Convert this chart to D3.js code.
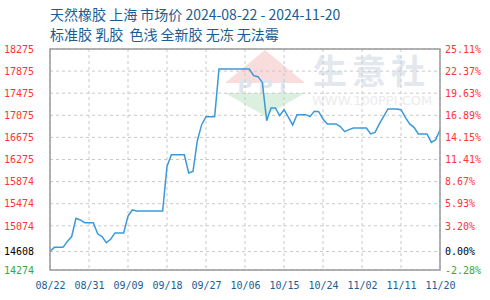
<!DOCTYPE html>
<html>
<head>
<meta charset="utf-8">
<script src="https://cdn.jsdelivr.net/npm/d3@7"></script>
<style>
body { margin: 0; background: #fff; }
</style>
</head>
<body>
<script>
// data (daily prices, yuan/ton)
var titleLines = ["天然橡胶 上海 市场价 2024-08-22 - 2024-11-20", "标准胶 乳胶  色浅 全新胶 无冻 无法霉"]
var startDate = "2024-08-22"
var prices = [
  14608, 14684, 14684, 14684, 14790, 14880, 15210, 15180, 15130, 15130,
  15130, 14930, 14880, 14770, 14830, 14945, 14945, 14945, 15250, 15361,
  15343, 15343, 15343, 15343, 15343, 15343, 15343, 16150, 16360, 16360,
  16360, 16360, 16030, 16060, 16615, 16905, 17050, 17050, 17050, 17913,
  17913, 17913, 17913, 17913, 17913, 17913, 17913, 17792, 17774, 17670,
  16977, 17207, 17207, 17068, 17176, 17040, 16900, 17086, 17086, 17086,
  17050, 17146, 17140, 17008, 16918, 16918, 16918, 16870, 16778, 16815,
  16845, 16845, 16845, 16845, 16737, 16766, 16918, 17055, 17189, 17189,
  17189, 17176, 17037, 16918, 16856, 16737, 16737, 16737, 16585, 16634,
  16809
]
var xTickLabels = ["08/22", "08/31", "09/09", "09/18", "09/27", "10/06", "10/15", "10/24", "11/02", "11/11", "11/20"]
var yTicks = [18275, 17875, 17475, 17075, 16675, 16275, 15874, 15474, 15074, 14608, 14274]
var pctLabels = ["25.11%", "22.37%", "19.63%", "16.89%", "14.15%", "11.41%", "8.67%", "5.93%", "3.20%", "0.00%", "-2.28%"]
var basePrice = 14608

var W = 490, H = 300
// plot box (don't use "top" as a global name, it clashes with window.top)
var pL = 50, pR = 440, pT = 49, pB = 270

var svg = d3.select("body").append("svg")
    .attr("width", W)
    .attr("height", H)

var parse = d3.timeParse("%Y-%m-%d")
var t0 = parse(startDate)
var data = prices.map((v, i) => ({ date: d3.timeDay.offset(t0, i), value: v }))
var xTicks = xTickLabels.map(s => parse("2024-" + s.replace("/", "-")))

var x = d3.scaleTime()
    .domain([t0, data[data.length - 1].date])
    .range([pL, pR])
var y = d3.scaleLinear()
    .domain([14274, 18275])
    .range([pB, pT])

var blue = "#1a5c93"
var mono = "'DejaVu Sans Mono', monospace"

// title
svg.selectAll(".title")
  .data(titleLines)
  .enter()
  .append("text")
  .attr("class", "title")
  .attr("x", pL)
  .attr("y", (d, i) => 20 + i * 19.5)
  .style("white-space", "pre")
  .text(d => d)
  .attr("font-family", "'Noto Sans CJK SC', sans-serif")
  .attr("font-size", "14px")
  .attr("fill", blue)

// watermark (behind grid)
var wm = svg.append("g").attr("class", "watermark")
wm.append("path")
  .attr("d", "M265,50 L305,83 L225,83 Z")
  .style("fill", "#f9dcdc")
wm.append("path")
  .attr("d", "M225,93 L305,93 L265,116 Z")
  .style("fill", "#dcf0df")
wm.append("text")
  .attr("x", 265).attr("y", 93)
  .attr("text-anchor", "middle")
  .text("PPI")
  .attr("font-family", "'DejaVu Sans', sans-serif")
  .attr("font-weight", "bold")
  .attr("font-size", "20px")
  .attr("letter-spacing", "6px")
  .attr("fill", "#dfe5ef")
wm.append("text")
  .attr("x", 313).attr("y", 84)
  .text("生意社")
  .attr("font-family", "'Noto Sans CJK SC', sans-serif")
  .attr("font-weight", "bold")
  .attr("font-size", "34px")
  .attr("letter-spacing", "5px")
  .attr("fill", "#e3e7ee")
wm.append("text")
  .attr("x", 312).attr("y", 105)
  .text("WWW.100PPI.COM")
  .attr("font-family", "'DejaVu Sans', sans-serif")
  .attr("font-size", "13px")
  .attr("fill", "#ebebeb")

// grid
var grid = svg.append("g").attr("class", "grid")
grid.selectAll(".hgrid")
  .data(yTicks)
  .enter()
  .append("line")
  .attr("x1", pL).attr("x2", pR)
  .attr("y1", d => y(d)).attr("y2", d => y(d))
  .style("stroke", "#c8c8c8")
  .style("stroke-dasharray", "3,3")
grid.selectAll(".vgrid")
  .data(xTicks)
  .enter()
  .append("line")
  .attr("x1", d => x(d)).attr("x2", d => x(d))
  .attr("y1", pT).attr("y2", pB)
  .style("stroke", "#c8c8c8")
  .style("stroke-dasharray", "3,3")

// line
var line = d3.line()
    .x(d => x(d.date))
    .y(d => y(d.value))
svg.append("path")
  .datum(data)
  .attr("d", line)
  .style("fill", "none")
  .style("stroke", "#3a9ad9")
  .style("stroke-width", 1.5)

// frame
svg.append("rect")
  .attr("x", pL).attr("y", pT)
  .attr("width", pR - pL).attr("height", pB - pT)
  .style("fill", "none")
  .style("stroke", "#9a9a9a")
  .style("stroke-width", 1.5)

function tickColor(v) {
  if (v > basePrice) return "#ff3333"
  if (v < basePrice) return "#33aa33"
  return "#000"
}

// left axis
var yAxisL = svg.append("g")
  .attr("transform", `translate(${pL},0)`)
  .call(d3.axisLeft(y).tickValues(yTicks).tickSize(0).tickPadding(16).tickFormat(d3.format("d")))
yAxisL.select(".domain").remove()
yAxisL.selectAll("text")
  .attr("font-family", mono)
  .attr("font-size", "10px")
  .attr("fill", d => tickColor(d))

// right axis
var yAxisR = svg.append("g")
  .attr("transform", `translate(${pR},0)`)
  .call(d3.axisRight(y).tickValues(yTicks).tickSize(0).tickPadding(5).tickFormat((d, i) => pctLabels[i]))
yAxisR.select(".domain").remove()
yAxisR.selectAll("text")
  .attr("font-family", mono)
  .attr("font-size", "10px")
  .attr("fill", d => tickColor(d))

// bottom axis
var xAxis = svg.append("g")
  .attr("transform", `translate(0,${pB})`)
  .call(d3.axisBottom(x).tickValues(xTicks).tickSize(0).tickPadding(12).tickFormat((d, i) => xTickLabels[i]))
xAxis.select(".domain").remove()
xAxis.selectAll("text")
  .attr("font-family", mono)
  .attr("font-size", "10px")
  .attr("fill", blue)
</script>
</body>
</html>
